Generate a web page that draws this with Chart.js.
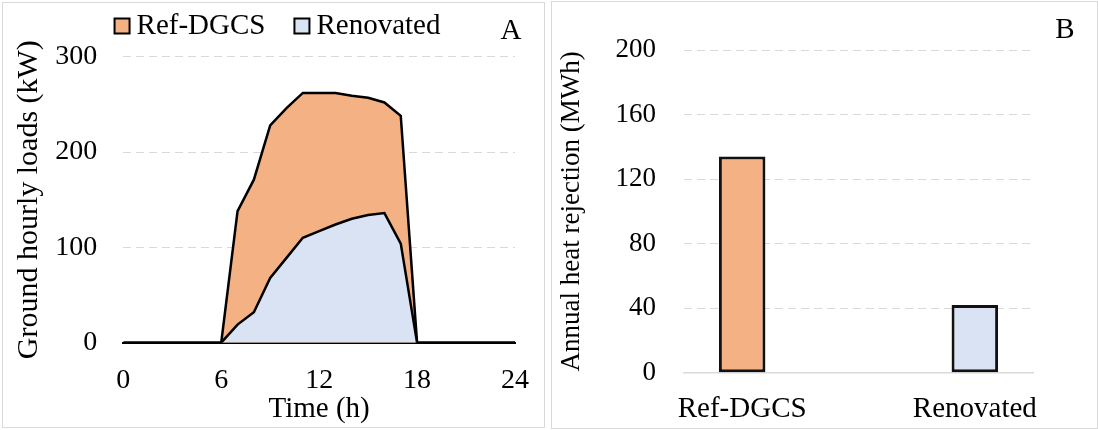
<!DOCTYPE html>
<html><head><meta charset="utf-8">
<script src="https://cdn.jsdelivr.net/npm/chart.js@4.4.0/dist/chart.umd.min.js"></script>
<style>
html,body{margin:0;padding:0;background:#fff;}
body{width:1098px;height:430px;position:relative;overflow:hidden;}
.panel{position:absolute;border:1px solid #d9d9d9;background:#fff;}
#pa{left:2px;top:2px;width:541px;height:424px;}
#pb{left:551px;top:1px;width:545px;height:426px;}
canvas{display:block;}
</style></head><body>
<div class="panel" id="pa"><canvas id="ca" width="541" height="424"></canvas></div>
<div class="panel" id="pb"><canvas id="cb" width="545" height="426"></canvas></div>
<script>
// ---- data ----
const hours = [0,1,2,3,4,5,6,7,8,9,10,11,12,13,14,15,16,17,18,19,20,21,22,23,24];
const refLoads = [0,0,0,0,0,0,0,138,171,228,246,262,262,262,259,257,252,238,0,0,0,0,0,0,0];
const renLoads = [0,0,0,0,0,0,0,19,32,68,89,110,117,124,130,134,136,104,0,0,0,0,0,0,0];
const seriesNames = ['Ref-DGCS','Renovated'];
const timeTicks = [0,6,12,18,24];
const loadTicks = [0,100,200,300];
const annualRejection = [134, 42];
const rejectionTicks = [0,40,80,120,160,200];
const seriesColors = ['#F4B183','#DAE3F3'];

const FAM = "'Liberation Serif','Times New Roman',serif";
Chart.defaults.font.family = FAM;
Chart.defaults.color = '#000';
const GRID = '#d9d9d9';

function letterPlugin(letter, x, y){
  return {id:'letter'+letter, afterDraw(chart){
    const c = chart.ctx; c.save();
    c.font = "29px " + FAM; c.fillStyle = '#000';
    c.textAlign = 'center'; c.textBaseline = 'middle';
    c.fillText(letter, x, y); c.restore();
  }};
}

const legendPlugin = {
  id:'customLegend',
  afterDraw(chart){
    const c = chart.ctx; c.save();
    c.font = "29px " + FAM;
    const box = 15, gap = 7, itemGap = 29, cy = 23;
    const items = seriesNames.map((n,i)=>({text:n, color:seriesColors[i]}));
    let total = 0;
    items.forEach((it,i)=>{ it.w = c.measureText(it.text).width; total += box + gap + it.w + (i ? itemGap : 0); });
    let x = (chart.width - total)/2 + 4;
    items.forEach(it=>{
      c.fillStyle = it.color; c.fillRect(x, cy - box/2, box, box);
      c.lineWidth = 2; c.strokeStyle = '#000'; c.strokeRect(x, cy - box/2, box, box);
      x += box + gap;
      c.fillStyle = '#000'; c.textAlign = 'left'; c.textBaseline = 'middle';
      c.fillText(it.text, x, cy);
      x += it.w + itemGap;
    });
    c.restore();
  }
};

// ---- Panel A ----
new Chart(document.getElementById('ca'), {
  type: 'line',
  data: {
    datasets: [
      {label: seriesNames[0], data: hours.map((h,i)=>({x:h, y:refLoads[i]})),
       fill: 'origin', backgroundColor: seriesColors[0], borderColor: '#000', borderWidth: 2.5,
       pointRadius: 0, tension: 0, order: 1},
      {label: seriesNames[1], data: hours.map((h,i)=>({x:h, y:renLoads[i]})),
       fill: 'origin', backgroundColor: seriesColors[1], borderColor: '#000', borderWidth: 2.5,
       pointRadius: 0, tension: 0, order: 0}
    ]
  },
  options: {
    responsive: false, animation: false, devicePixelRatio: 1,
    layout: {padding: {left: 0, right: 29, top: 53.7, bottom: 0}},
    plugins: {legend: {display: false}, tooltip: {enabled: false}},
    scales: {
      x: {
        type: 'linear', min: 0, max: 24,
        afterBuildTicks: s => { s.ticks = timeTicks.map(v => ({value: v})); },
        afterFit: s => { s.height = 84.3; },
        grid: {display: false},
        border: {display: true, color: '#000', width: 2},
        ticks: {font: {size: 28}, color: '#000', padding: 13, maxRotation: 0, autoSkip: false},
        title: {display: true, text: 'Time (h)', font: {size: 29}, color: '#000', padding: {top: 0, bottom: 0}}
      },
      y: {
        min: 0, max: 300,
        afterBuildTicks: s => { s.ticks = loadTicks.map(v => ({value: v})); },
        afterFit: s => { s.width = 120.3; },
        grid: {color: ctx => (ctx.tick && ctx.tick.value === 0) ? 'rgba(0,0,0,0)' : GRID, lineWidth: 1, drawTicks: false},
        border: {display: false, dash: [8,5]},
        ticks: {font: {size: 28}, color: '#000', padding: 26},
        title: {display: true, text: 'Ground hourly loads (kW)', font: {size: 30}, color: '#000', padding: {top: 8, bottom: 0}}
      }
    }
  },
  plugins: [legendPlugin, letterPlugin('A', 508, 28)]
});

// ---- Panel B ----
new Chart(document.getElementById('cb'), {
  type: 'bar',
  data: {
    labels: [seriesNames[0], '', seriesNames[1]],
    datasets: [{
      label: 'Annual heat rejection',
      data: [annualRejection[0], null, annualRejection[1]],
      backgroundColor: [seriesColors[0], 'rgba(0,0,0,0)', seriesColors[1]],
      borderColor: '#111', borderWidth: 3, borderSkipped: false,
      barPercentage: 0.4, categoryPercentage: 1
    }]
  },
  options: {
    responsive: false, animation: false, devicePixelRatio: 1,
    layout: {padding: {left: 0, right: 64, top: 48, bottom: 0}},
    plugins: {legend: {display: false}, tooltip: {enabled: false}},
    scales: {
      x: {
        afterFit: s => { s.height = 55.3; },
        grid: {display: false},
        border: {display: true, color: GRID, width: 1.5},
        ticks: {font: {size: 29}, color: '#000', padding: 11, maxRotation: 0, minRotation: 0, autoSkip: false}
      },
      y: {
        min: 0, max: 200,
        afterBuildTicks: s => { s.ticks = rejectionTicks.map(v => ({value: v})); },
        afterFit: s => { s.width = 132; },
        grid: {color: ctx => (ctx.tick && ctx.tick.value === 0) ? 'rgba(0,0,0,0)' : GRID, lineWidth: 1, drawTicks: false},
        border: {display: false, dash: [8,5]},
        ticks: {font: {size: 27}, color: '#000', padding: 28},
        title: {display: true, text: 'Annual heat rejection (MWh)', font: {size: 27}, color: '#000', padding: {top: 4, bottom: 0}}
      }
    }
  },
  plugins: [letterPlugin('B', 513, 28)]
});
</script>
</body></html>
